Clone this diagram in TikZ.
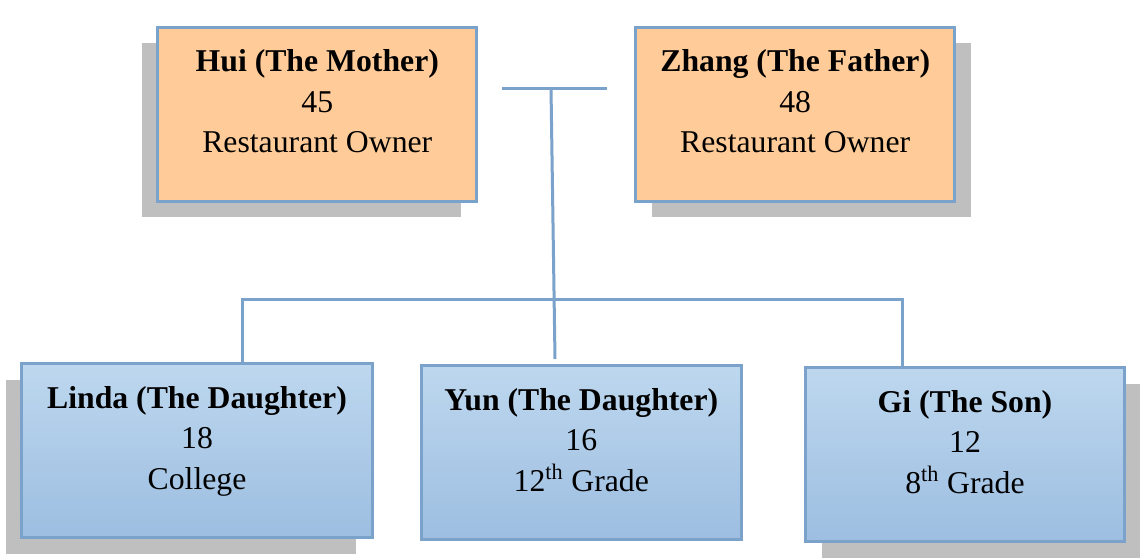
\documentclass[tikz,border=0pt]{standalone}
\usepackage{fontspec}
\setmainfont{Liberation Serif}
\usetikzlibrary{shadows}

\definecolor{lineblue}{RGB}{122,162,202}
\definecolor{peach}{RGB}{255,204,153}
\definecolor{shadowgray}{RGB}{191,191,191}
\definecolor{kidtop}{RGB}{189,215,238}
\definecolor{kidbottom}{RGB}{157,190,225}

\begin{document}
\begin{tikzpicture}
    [ x=.75pt, y=-.75pt,
      font={\fontsize{23.8}{30.4}\selectfont},
      person/.style={draw=lineblue, line width=2.25pt,
                     minimum width=239pt, minimum height=130.5pt},
      parent/.style={person, fill=peach},
      child/.style={person, top color=kidtop, bottom color=kidbottom},
      shadowleft/.style={drop shadow={shadow xshift=-12pt, shadow yshift=-12pt,
                                      fill=shadowgray, opacity=1}},
      shadowright/.style={drop shadow={shadow xshift=12pt, shadow yshift=-12pt,
                                       fill=shadowgray, opacity=1}},
      info/.style={align=center, yshift=5.3pt,
                   execute at begin node=\strut, execute at end node=\strut},
      link/.style={draw=lineblue, line width=2.25pt}
    ]
    \useasboundingbox (0, 0) rectangle (1142, 557);

    % Connectors
    \coordinate (barleft) at (502, 88);
    \coordinate (barright) at (607, 88);
    \coordinate (stem) at (551, 88);
    \coordinate (stemend) at (555, 359);
    \coordinate (railleft) at (242, 299);
    \coordinate (railright) at (902, 299);
    \draw[link] (barleft) -- (barright);
    \draw[link] (stem) -- (stemend);

    % Parents
    \node[parent, shadowleft] (hui) at (317.3, 114.2) {};
    \node[info] (huitext) at (hui) {\textbf{Hui (The Mother)}\\45\\Restaurant Owner};
    \node[parent, shadowright] (zhang) at (795.2, 114.2) {};
    \node[info] (zhangtext) at (zhang) {\textbf{Zhang (The Father)}\\48\\Restaurant Owner};

    % Children
    \node[child, shadowleft, minimum width=263pt] (linda) at (197, 450.8) {};
    \node[info] (lindatext) at (linda) {\textbf{Linda (The Daughter)}\\18\\College};
    \node[child, minimum width=240pt] (yun) at (581.3, 452.8) {};
    \node[info] (yuntext) at (yun) {\textbf{Yun (The Daughter)}\\16\\12\textsuperscript{th} Grade};
    \node[child, shadowright] (gi) at (965, 454.7) {};
    \node[info] (gitext) at (gi) {\textbf{Gi (The Son)}\\12\\8\textsuperscript{th} Grade};

    \draw[link] (railleft |- linda.north) -- (railleft) -- (railright) -- (railright |- gi.north);

\end{tikzpicture}
\end{document}
